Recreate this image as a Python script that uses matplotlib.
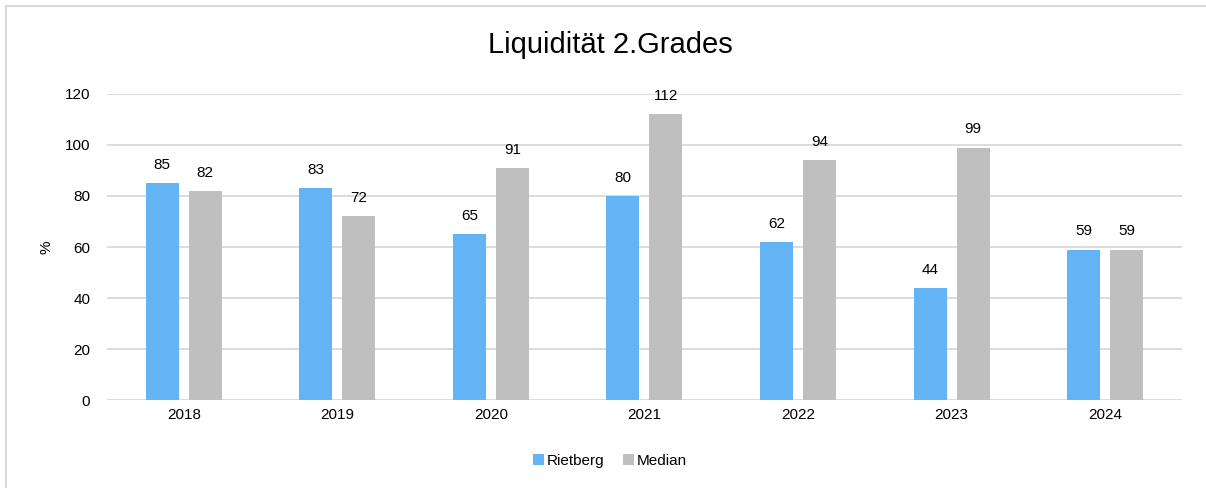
import matplotlib.pyplot as plt
import numpy as np
from matplotlib.lines import Line2D

plt.rcParams["font.family"] = ["Liberation Sans", "DejaVu Sans"]

# ---- Data ----
years = ["2018", "2019", "2020", "2021", "2022", "2023", "2024"]
rietberg = [85, 83, 65, 80, 62, 44, 59]
median = [82, 72, 91, 112, 94, 99, 59]

BLUE = "#63B4F5"
GRAY = "#BFBFBF"
GRID = "#D9D9D9"

fig = plt.figure(figsize=(12.06, 4.88), dpi=100)
ax = fig.add_axes([0.0887, 0.1803, 0.8913, 0.6271])

x = np.arange(len(years))
w = 0.215
off = 0.14
b1 = ax.bar(x - off, rietberg, w, color=BLUE, label="Rietberg", zorder=3)
b2 = ax.bar(x + off, median, w, color=GRAY, label="Median", zorder=3)

for bars in (b1, b2):
    for r in bars:
        ax.annotate(f"{r.get_height():.0f}", (r.get_x() + r.get_width() / 2, r.get_height()),
                    xytext=(0, 8), textcoords="offset points", ha="center", va="bottom",
                    fontsize=11, color="#000000")

ax.set_xlim(-0.5, len(years) - 0.5)
ax.set_ylim(0, 120)
ax.set_yticks(range(0, 121, 20))
ax.set_xticks(x)
ax.set_xticklabels(years)
ax.tick_params(axis="both", length=0, labelsize=11, colors="#000000")
ax.tick_params(axis="y", pad=12)
ax.tick_params(axis="x", pad=6)
ax.grid(axis="y", color=GRID, linewidth=1.3, zorder=0)
for s in ax.spines.values():
    s.set_visible(False)
ax.set_ylabel("%", fontsize=11, labelpad=8)

fig.text(0.506, 0.907, "Liquidität 2.Grades", ha="center", va="center", fontsize=21)

fig.legend(*ax.get_legend_handles_labels(), loc="center", bbox_to_anchor=(0.506, 0.055),
           ncol=2, frameon=False, fontsize=11, handlelength=0.7, handleheight=0.7,
           handletextpad=0.2, columnspacing=1.2)

# outer chart frame (left and top edge visible)
fig.add_artist(Line2D([6 / 1206, 6 / 1206], [0, 1 - 6 / 488], transform=fig.transFigure,
                      color=GRID, linewidth=1.5))
fig.add_artist(Line2D([6 / 1206, 1], [1 - 6 / 488, 1 - 6 / 488], transform=fig.transFigure,
                      color=GRID, linewidth=1.5))

fig.savefig("out.png", dpi=100)
